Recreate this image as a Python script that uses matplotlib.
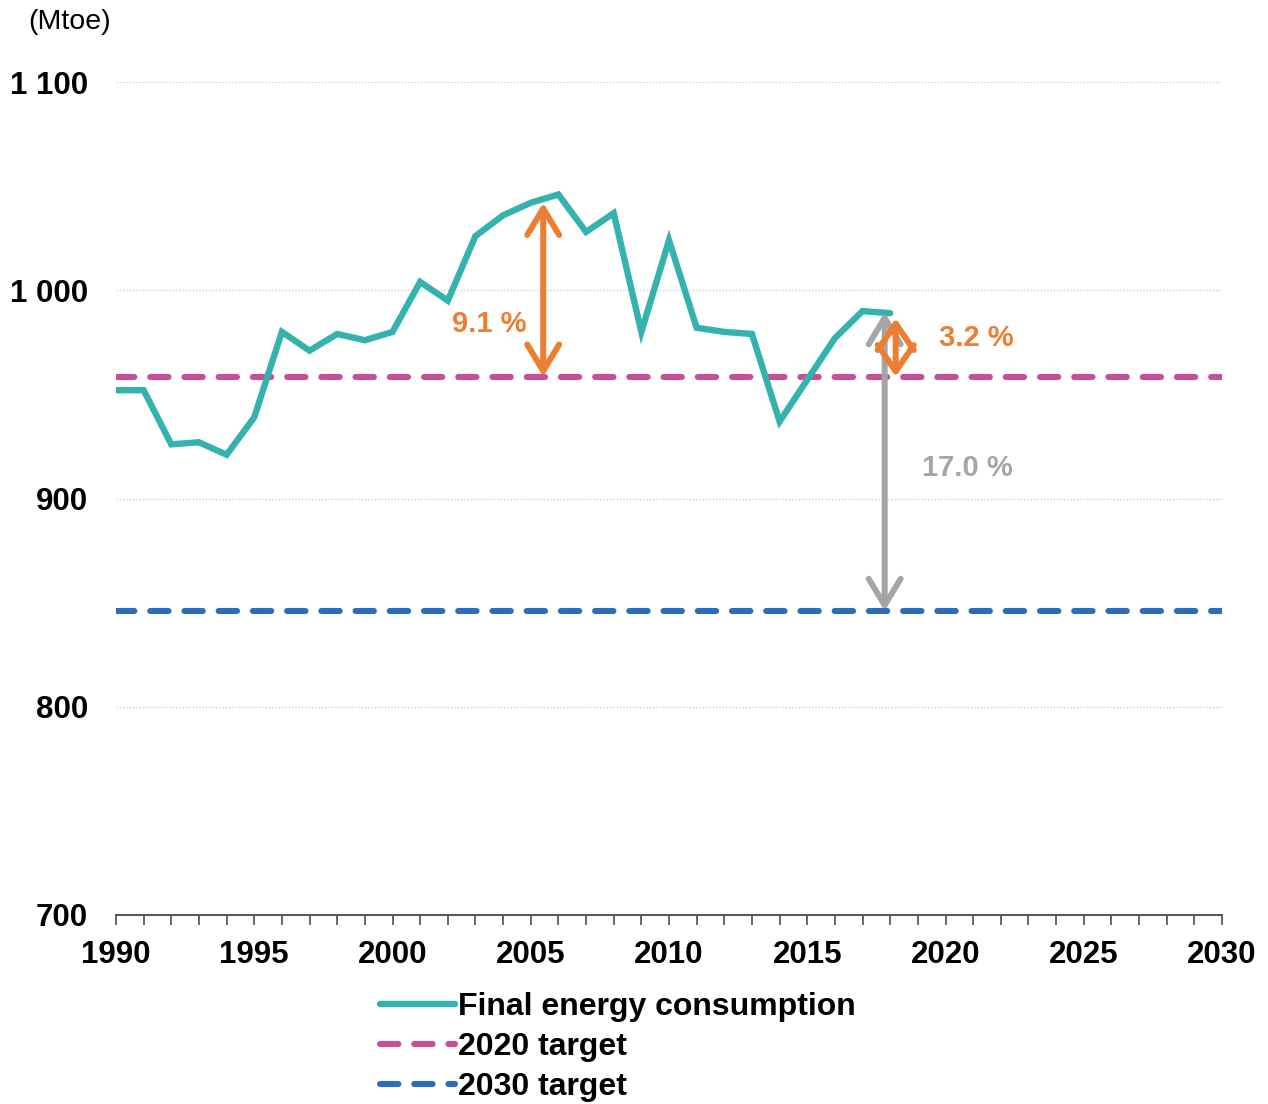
import matplotlib.pyplot as plt
from matplotlib.ticker import FuncFormatter, MultipleLocator

plt.rcParams['font.family'] = ['Liberation Sans', 'DejaVu Sans']

years = list(range(1990, 2019))
consumption = [952, 952, 926, 927, 921, 939, 980, 971, 979, 976, 980, 1004, 995, 1026, 1036,
               1042, 1046, 1028, 1037, 980, 1024, 982, 980, 979, 937, 957, 977, 990, 989]
target_2020 = 958.5
target_2030 = 846
x_range = [1990, 2030]

teal = '#33B2AE'
pink = '#C84E96'
blue = '#2A6EBB'
orange = '#ED7D31'
grey = '#A5A5A5'

fig = plt.figure(figsize=(12.68, 11.04), dpi=100)
ax = fig.add_axes([116 / 1268, 1 - 915 / 1104, 1106 / 1268, 833 / 1104])

dash = (0, (3.0, 2.6))
ax.plot(years, consumption, color=teal, lw=4.6, solid_capstyle='round',
        solid_joinstyle='miter', label='Final energy consumption', zorder=4)
ax.plot(x_range, [target_2020] * 2, color=pink, lw=4.4, linestyle=dash,
        dash_capstyle='round', label='2020 target', zorder=3)
ax.plot(x_range, [target_2030] * 2, color=blue, lw=4.4, linestyle=dash,
        dash_capstyle='round', label='2030 target', zorder=3)

# gap arrows
def gap_arrow(x, y0, y1, color, z, hw=1.15):
    ax.annotate('', xy=(x, y1), xytext=(x, y0),
                arrowprops=dict(arrowstyle=f'<->,head_length=1.9,head_width={hw}',
                                color=color, lw=4.3, shrinkA=0, shrinkB=0,
                                capstyle='round', joinstyle='round'),
                zorder=z)

gap_arrow(2005.45, target_2020, 1042, orange, 5)
gap_arrow(2017.8, target_2030, 989.5, grey, 5)
gap_arrow(2018.2, target_2020, 986.5, orange, 6, hw=1.3)

ax.text(2003.5, 984, '9.1 %', color=orange, fontsize=21, fontweight='bold',
        ha='center', va='center')
ax.text(2021.1, 977, '3.2 %', color=orange, fontsize=21, fontweight='bold',
        ha='center', va='center')
ax.text(2020.8, 914.5, '17.0 %', color=grey, fontsize=21, fontweight='bold',
        ha='center', va='center')

ax.set_xlim(x_range)
ax.set_ylim(700, 1100)
ax.xaxis.set_major_locator(MultipleLocator(5))
ax.xaxis.set_minor_locator(MultipleLocator(1))
ax.yaxis.set_major_locator(MultipleLocator(100))
ax.yaxis.set_major_formatter(FuncFormatter(lambda v, p: f'{int(v):,}'.replace(',', ' ')))

for s in ['top', 'right', 'left']:
    ax.spines[s].set_visible(False)
ax.spines['bottom'].set_color('#595959')
ax.spines['bottom'].set_linewidth(1.5)
ax.tick_params(axis='x', which='both', direction='out', length=7, width=1.3,
               color='#595959', labelsize=22.5, pad=11)
ax.tick_params(axis='y', length=0, labelsize=22.5, pad=20)
for lbl in ax.get_xticklabels() + ax.get_yticklabels():
    lbl.set_fontweight('bold')

ax.grid(axis='y', color='#C8C8C8', linestyle=':', linewidth=0.9)
ax.set_axisbelow(True)

fig.text(70 / 1268, 1 - 22 / 1104, '(Mtoe)', fontsize=20.5, ha='center', va='center')

leg = fig.legend(loc='upper left', bbox_to_anchor=(380 / 1268, 1 - 992 / 1104),
                 frameon=False, borderpad=0, borderaxespad=0,
                 handlelength=2.35, handletextpad=0.1,
                 labelspacing=0.31, prop={'size': 23, 'weight': 'bold'})

fig.savefig('out.png', dpi=100)
